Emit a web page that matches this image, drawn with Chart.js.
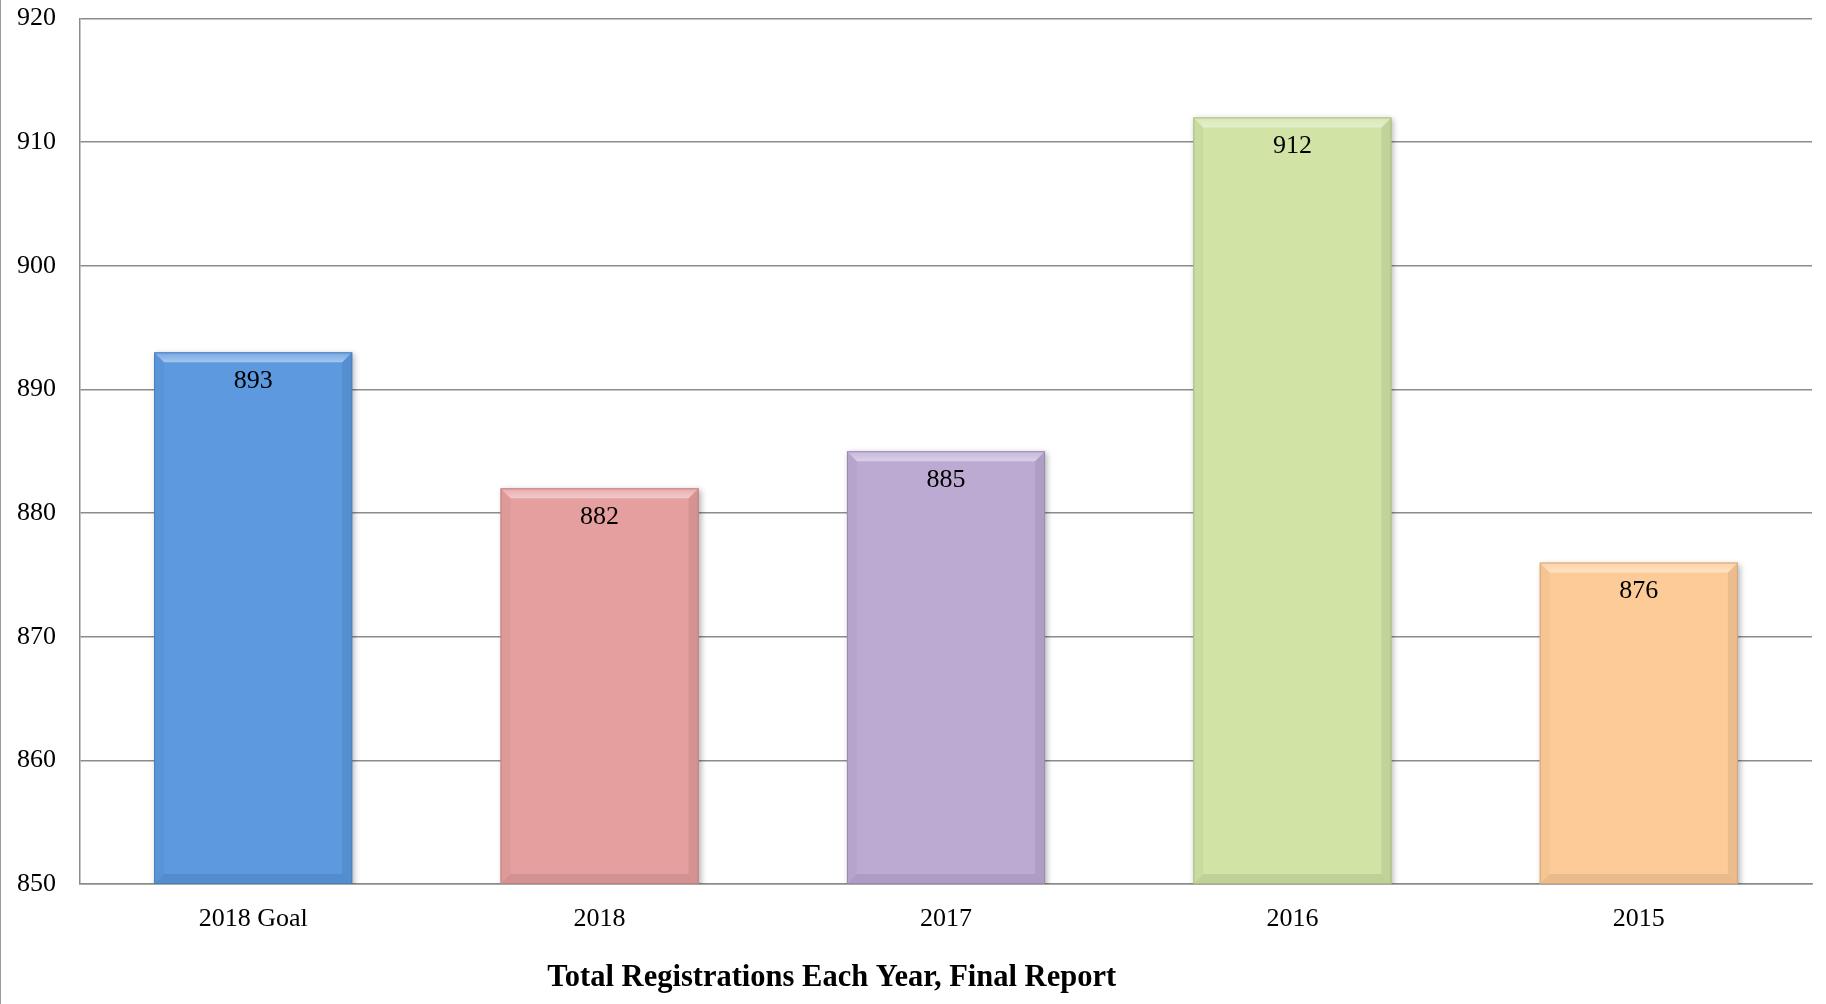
<!DOCTYPE html>
<html>
<head>
<meta charset="utf-8">
<script src="https://cdn.jsdelivr.net/npm/chart.js@4.4.1/dist/chart.umd.min.js"></script>
<style>
  html, body { margin: 0; padding: 0; background: #fff; }
  #wrap { width: 1826px; height: 1004px; position: relative; }
</style>
</head>
<body>
<div id="wrap"><canvas id="regChart"></canvas></div>
<script>
// dữ liệu biểu đồ
const categories = ['2018 Goal', '2018', '2017', '2016', '2015'];
const registrations = [893, 882, 885, 912, 876];
const barColors = ['#5c99df', '#e59f9e', '#bdaad3', '#d1e3a5', '#fdcb98'];
const edgeColors = ['#4a7fbd', '#c07f7e', '#9b88b0', '#a9bb80', '#d6a674'];
const chartTitle = 'Total Registrations Each Year, Final Report';

const serif = '"Liberation Serif", "DejaVu Serif", serif';

// Viền trái + tiêu đề dưới cùng
const framePlugin = {
    id: 'frame',
    afterDraw(chart) {
        const ctx = chart.ctx;
        const area = chart.chartArea;
        ctx.save();
        ctx.strokeStyle = '#9a9a9a';
        ctx.lineWidth = 1;
        ctx.beginPath();
        ctx.moveTo(0.5, 0);
        ctx.lineTo(0.5, chart.height);
        ctx.stroke();

        ctx.fillStyle = '#000';
        ctx.font = 'bold 30.5px ' + serif;
        ctx.textAlign = 'center';
        ctx.textBaseline = 'alphabetic';
        ctx.fillText(chartTitle, area.left + area.width * 0.434, area.bottom + 102);
        ctx.restore();
    }
};

// Hiệu ứng vát cạnh cho cột + nhãn giá trị
const bevelPlugin = {
    id: 'bevel',
    beforeDatasetsDraw(chart) {
        const ctx = chart.ctx;
        ctx.save();
        ctx.shadowColor = 'rgba(0,0,0,0.3)';
        ctx.shadowBlur = 6;
        ctx.shadowOffsetX = 2;
        ctx.shadowOffsetY = 2;
    },
    afterDatasetsDraw(chart) {
        const ctx = chart.ctx;
        ctx.restore();
        const meta = chart.getDatasetMeta(0);
        const area = chart.chartArea;
        ctx.save();
        meta.data.forEach(function (bar, i) {
            const left = bar.x - bar.width / 2;
            const right = bar.x + bar.width / 2;
            const top = bar.y;
            const bottom = Math.min(bar.base, area.bottom);
            const b = 10;

            // cạnh trên sáng
            const g = ctx.createLinearGradient(0, top, 0, top + b);
            g.addColorStop(0, 'rgba(255,255,255,0.15)');
            g.addColorStop(1, 'rgba(255,255,255,0.45)');
            ctx.fillStyle = g;
            ctx.beginPath();
            ctx.moveTo(left, top);
            ctx.lineTo(right, top);
            ctx.lineTo(right - b, top + b);
            ctx.lineTo(left + b, top + b);
            ctx.closePath();
            ctx.fill();

            // cạnh trái
            ctx.fillStyle = 'rgba(0,0,0,0.03)';
            ctx.beginPath();
            ctx.moveTo(left, top);
            ctx.lineTo(left + b, top + b);
            ctx.lineTo(left + b, bottom - b);
            ctx.lineTo(left, bottom);
            ctx.closePath();
            ctx.fill();

            // cạnh phải
            ctx.fillStyle = 'rgba(0,0,0,0.07)';
            ctx.beginPath();
            ctx.moveTo(right, top);
            ctx.lineTo(right - b, top + b);
            ctx.lineTo(right - b, bottom - b);
            ctx.lineTo(right, bottom);
            ctx.closePath();
            ctx.fill();

            // cạnh dưới
            ctx.fillStyle = 'rgba(0,0,0,0.08)';
            ctx.beginPath();
            ctx.moveTo(left, bottom);
            ctx.lineTo(left + b, bottom - b);
            ctx.lineTo(right - b, bottom - b);
            ctx.lineTo(right, bottom);
            ctx.closePath();
            ctx.fill();

            ctx.strokeStyle = edgeColors[i];
            ctx.lineWidth = 1;
            ctx.strokeRect(left + 0.5, top + 0.5, bar.width - 1, bottom - top - 1);

            // nhãn giá trị
            ctx.fillStyle = '#000';
            ctx.font = '26px ' + serif;
            ctx.textAlign = 'center';
            ctx.textBaseline = 'middle';
            ctx.fillText(String(registrations[i]), bar.x, top + 29);
        });
        ctx.restore();
    }
};

const ctx = document.getElementById('regChart');

new Chart(ctx, {
    type: 'bar',
    data: {
        labels: categories,
        datasets: [{
            data: registrations,
            backgroundColor: barColors,
            borderWidth: 0,
            categoryPercentage: 1,
            barPercentage: 0.572
        }]
    },
    options: {
        responsive: true,
        maintainAspectRatio: false,
        animation: false,
        devicePixelRatio: 1,
        layout: { padding: { top: 18.5, right: 14, left: 0, bottom: 0 } },
        plugins: {
            legend: { display: false },
            title: { display: false },
            tooltip: { enabled: false }
        },
        scales: {
            y: {
                min: 850,
                max: 920,
                afterFit: function (scale) { scale.width = 80; },
                ticks: {
                    stepSize: 10,
                    padding: 2,
                    color: '#000',
                    font: { family: serif, size: 26 }
                },
                grid: {
                    color: '#8c8c8c',
                    lineWidth: 1.5,
                    drawTicks: true,
                    tickLength: 22,
                    tickColor: 'rgba(0,0,0,0)'
                },
                border: { color: '#8c8c8c', width: 1.5 }
            },
            x: {
                afterFit: function (scale) { scale.height = 120; },
                ticks: {
                    padding: 20,
                    color: '#000',
                    font: { family: serif, size: 26 }
                },
                grid: { display: false, drawTicks: false, tickLength: 0 },
                border: { color: '#8c8c8c', width: 1.5 }
            }
        }
    },
    plugins: [framePlugin, bevelPlugin]
});
</script>
</body>
</html>
